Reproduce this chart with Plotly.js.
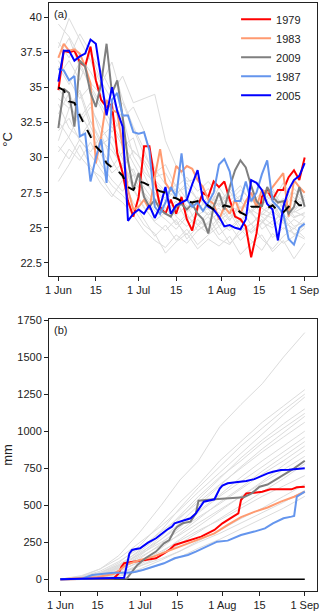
<!DOCTYPE html>
<html>
<head>
<meta charset="utf-8">
<script src="https://cdn.plot.ly/plotly-3.0.1.min.js"></script>
<style>
  html, body { margin: 0; padding: 0; background: #fff; }
  #chart { width: 320px; height: 611px; }
</style>
</head>
<body>
<div id="chart"></div>
<script>
// day index: 0 = 1 Jun, 92 = 1 Sep
const tickDays = [0, 14, 30, 44, 61, 75, 92];
const tickLabels = ["1 Jun", "15", "1 Jul", "15", "1 Aug", "15", "1 Sep"];

// ---- (a) daily max temperature, °C ----
const days2 = [0,2,4,6,8,10,12,14,16,18,20,22,24,26,28,30,32,34,36,38,40,42,44,46,48,50,52,54,56,58,60,62,64,66,68,70,72,74,76,78,80,82,84,86,88,90,92];
const days4 = [0,4,8,12,16,20,24,28,32,36,40,44,48,52,56,60,64,68,72,76,80,84,88,92];

const temp1979 = [34.8,37.6,37.5,37.6,36.8,36.5,37.9,35.5,34.1,33.6,33.8,30.3,28.9,26.9,25.8,27.2,30.8,30.8,28.4,26.5,26.0,27.0,26.0,27.2,25.6,24.8,26.5,27.5,27.2,28.3,27.9,28.3,27.0,25.8,25.6,25.1,22.9,24.6,27.2,27.7,27.0,27.7,27.7,28.6,29.1,28.4,30.0];
const temp1983 = [37.1,38.1,37.6,37.7,37.4,36.5,35.3,29.6,31.5,34.1,33.4,33.2,30.8,27.7,26.3,26.5,27.0,26.3,28.6,30.6,28.2,27.6,29.4,29.0,29.4,29.2,28.4,27.9,27.0,26.7,25.6,26.5,26.0,27.0,26.0,26.9,27.5,26.5,27.7,27.5,27.9,28.4,28.9,25.8,28.4,27.9,27.5];
const temp2009 = [32.1,34.9,34.6,32.2,36.9,36.5,34.6,33.6,35.3,38.1,34.6,35.5,32.9,29.8,27.7,28.9,27.2,26.5,27.0,26.3,26.0,25.8,26.5,26.7,26.3,26.7,26.0,25.6,24.6,26.5,27.5,26.3,27.9,29.1,29.8,29.3,28.0,26.9,26.5,27.9,27.2,26.8,26.9,26.0,26.5,27.9,26.5];
const temp1987 = [36.3,36.2,35.5,35.8,31.5,31.7,28.3,30.0,31.3,28.2,34.1,34.6,33.0,33.0,31.8,31.7,31.8,30.5,26.5,26.0,26.8,27.9,27.2,30.3,27.0,26.5,26.8,26.2,26.8,27.5,29.5,29.9,29.0,26.9,26.9,28.3,26.9,27.5,28.8,29.8,26.9,26.5,26.0,24.2,23.8,25.0,25.3];
const temp2005 = [35.4,37.6,37.6,36.9,37.2,37.4,38.4,38.1,35.6,33.0,35.0,33.3,32.2,25.5,26.0,26.3,26.0,26.6,25.7,26.5,27.9,26.0,26.6,26.8,27.0,28.1,29.1,27.0,26.5,26.3,25.8,25.1,25.2,25.0,24.9,25.6,28.4,28.2,27.7,26.7,26.3,24.1,26.5,27.7,28.4,28.7,29.6];
const tempMean = [35.0,34.8,34.0,33.9,33.0,32.2,31.5,30.8,30.4,29.6,29.3,29.1,28.7,27.9,27.7,28.3,28.2,28.0,27.8,27.6,27.5,27.2,27.1,26.9,26.9,26.8,26.9,26.7,26.6,26.3,26.3,26.6,26.5,26.4,26.1,25.9,26.5,26.5,26.5,26.4,26.6,26.2,26.1,26.5,27.0,26.6,26.6];

const tempOther = [
  [39.5,38.6,37.2,36.1,34.8,33.2,31.5,30.4,29.8,28.6,28.9,27.5,27.9,27.0,26.8,27.4,26.5,26.2,27.0,26.4,25.9,26.8,26.1,26.5],
  [37.8,39.9,38.4,36.9,35.2,36.8,34.1,32.2,30.6,28.4,27.6,27.2,26.1,26.8,25.9,26.4,25.5,26.9,26.0,25.4,26.3,27.1,25.8,26.0],
  [36.5,35.2,36.8,34.9,33.5,31.8,32.9,30.1,28.8,27.1,26.4,25.9,26.6,25.2,26.1,25.4,24.8,25.6,26.2,24.9,25.5,26.0,25.1,25.4],
  [34.2,33.5,34.8,32.6,31.2,30.5,29.4,28.2,27.5,26.6,27.2,25.8,25.1,25.9,26.4,25.1,25.8,26.5,25.2,26.1,26.8,25.5,26.2,27.0],
  [33.1,34.6,32.8,33.9,31.5,32.2,30.8,31.4,29.0,28.2,27.4,28.1,27.0,26.2,27.3,26.6,27.8,26.9,26.1,27.4,26.5,27.9,26.8,27.3],
  [31.9,32.8,31.2,30.4,31.6,29.8,28.5,29.2,27.4,26.2,25.6,24.9,25.8,25.2,24.6,25.5,26.1,24.8,25.3,26.0,25.7,24.9,25.6,25.1],
  [30.4,31.5,33.2,31.8,30.2,28.9,29.6,27.8,26.5,25.4,24.8,25.6,24.2,25.1,25.8,24.5,25.2,24.1,24.9,25.6,24.3,25.0,24.6,24.2],
  [29.2,30.6,29.8,31.1,29.5,28.4,27.6,28.8,27.1,25.9,26.5,25.2,26.0,24.8,25.4,26.1,25.0,25.7,24.6,25.3,26.2,25.5,24.9,25.8],
  [28.3,29.5,30.9,29.4,28.1,27.2,28.4,26.8,25.6,24.4,25.2,24.1,24.9,23.8,24.5,25.1,23.9,24.6,25.3,24.2,23.5,24.4,25.0,24.3],
  [35.8,36.9,35.5,37.4,36.2,34.6,35.8,33.9,34.2,34.5,31.2,29.4,28.3,28.5,27.1,26.9,27.6,26.4,27.2,26.7,27.8,26.3,27.5,26.8],
  [38.2,37.1,38.8,37.5,35.4,34.1,32.8,33.6,31.9,29.2,28.1,27.4,28.2,27.0,27.8,26.5,27.2,28.0,26.8,27.5,26.9,28.2,27.1,26.6],
  [32.6,31.4,30.1,29.2,28.6,27.4,26.8,25.9,24.8,24.1,23.6,24.5,23.9,24.8,25.3,24.2,23.8,24.9,24.1,23.4,24.6,23.9,24.4,25.0],
  [34.9,33.8,32.5,33.6,32.1,30.9,29.2,30.5,29.6,27.8,26.9,27.8,26.5,27.2,26.3,27.9,26.7,27.3,26.1,26.8,27.6,26.5,27.8,26.9],
  [36.9,35.6,34.2,35.1,33.8,32.4,31.1,29.6,28.2,27.5,26.2,26.9,25.5,26.3,27.0,25.8,26.6,25.4,26.3,25.8,25.2,26.4,25.7,26.1],
  [31.2,33.5,34.6,32.2,30.6,29.3,30.4,28.9,27.9,26.8,27.5,26.3,27.1,26.5,25.9,26.8,25.6,26.4,27.1,25.9,26.6,25.3,26.2,25.8],
  [33.8,32.1,31.4,32.6,30.9,31.5,29.9,27.7,26.4,25.5,26.1,25.4,24.5,25.6,24.9,25.7,26.3,25.1,24.7,25.4,25.0,25.9,24.5,25.2],
  [37.2,38.5,36.4,35.3,34.5,33.1,33.9,32.1,30.2,28.9,29.5,27.9,28.6,27.6,28.3,27.3,26.9,27.7,27.0,26.6,27.4,26.7,26.3,27.2],
  [30.8,29.9,31.3,30.2,29.1,28.0,27.3,26.4,25.2,24.6,23.2,24.0,24.6,23.5,24.2,23.7,24.4,23.1,23.9,24.5,23.3,24.1,22.8,23.9]
];

// ---- (b) cumulative precipitation, mm ----
const rainDays1979 = [0,20,22,23,24,28,32,36,39,41,43,45,49,53,58,61,65,67,68,70,73,76,79,87,89,92];
const rain1979 = [0,5,40,85,108,119,126,142,175,198,232,243,265,288,333,378,423,445,535,580,585,591,607,607,621,625];
const rainDays1983 = [0,14,20,22,25,30,35,39,43,48,53,58,63,68,73,78,83,88,92];
const rain1983 = [0,15,36,58,100,130,153,180,209,243,277,310,367,420,455,485,524,557,591];
const rainDays2009 = [0,25,27,29,32,36,39,41,43,44,46,49,51,52,58,65,69,72,75,78,83,88,92];
const rain2009 = [0,5,52,97,142,187,243,265,333,355,378,389,445,530,540,546,553,580,625,640,693,749,800];
const rainDays1987 = [0,8,12,15,20,25,28,31,35,39,43,48,51,55,59,63,68,73,77,80,84,87,88,89,92];
const rain1987 = [0,3,29,36,45,45,50,63,85,108,142,164,187,220,254,261,299,322,344,378,412,423,428,558,592];
const rainDays2005 = [0,24,26,27,28,30,33,36,40,42,43,45,49,51,54,58,60,61,63,66,70,73,76,78,80,83,86,88,92];
const rain2005 = [0,10,175,198,203,209,247,277,333,355,378,389,412,445,524,540,612,632,648,655,663,676,700,715,726,738,740,742,749];
const zeroDays = [0, 92];
const zeroRain = [0, 0];

const rainDaysOther = [0,8,15,22,30,38,45,52,60,68,76,84,92];
const rainOther = [
  [0,20,70,160,320,500,670,800,1030,1180,1320,1500,1665],
  [0,15,45,110,230,380,520,640,800,930,1060,1170,1280],
  [0,10,35,90,200,330,480,620,760,900,1020,1140,1250],
  [0,25,70,140,250,360,470,590,720,850,980,1110,1230],
  [0,5,30,80,170,290,410,540,680,820,940,1050,1150],
  [0,12,40,100,190,300,430,560,690,800,920,1020,1120],
  [0,8,25,70,160,270,380,500,630,760,880,990,1100],
  [0,18,55,120,210,320,420,520,640,750,860,960,1060],
  [0,6,20,60,140,240,350,460,570,690,800,900,1000],
  [0,10,30,85,180,270,360,450,560,660,760,860,960],
  [0,4,15,50,120,210,310,410,520,620,730,830,930],
  [0,14,45,95,170,250,330,420,510,610,710,800,900],
  [0,3,12,40,100,180,270,360,460,560,660,770,870],
  [0,8,30,75,150,230,300,380,470,560,650,740,830],
  [0,2,10,35,90,160,240,320,410,500,590,680,780],
  [0,6,20,55,120,190,260,330,400,480,560,630,700],
  [0,2,8,25,70,130,190,260,330,410,480,560,640],
  [0,5,15,40,90,140,190,250,310,380,450,520,600],
  [0,1,5,20,55,100,150,210,270,340,410,480,560]
];

const years = ["1979", "1983", "2009", "1987", "2005"];
const colors = ["#ff0000", "#ff9a70", "#7f7f7f", "#6495ed", "#0000ff"];
const tempYears = [temp1979, temp1983, temp2009, temp1987, temp2005];
const rainYears = [
  [rainDays1979, rain1979],
  [rainDays1983, rain1983],
  [rainDays2009, rain2009],
  [rainDays1987, rain1987],
  [rainDays2005, rain2005],
];

const grey = "#dcdcdc";
const traces = [];

tempOther.forEach((vals) => {
  traces.push({
    type: "scatter", mode: "lines", x: days4, y: vals,
    xaxis: "x", yaxis: "y", showlegend: false, hoverinfo: "skip",
    line: { color: grey, width: 1 },
  });
});
rainOther.forEach((vals) => {
  traces.push({
    type: "scatter", mode: "lines", x: rainDaysOther, y: vals,
    xaxis: "x2", yaxis: "y2", showlegend: false, hoverinfo: "skip",
    line: { color: grey, width: 1 },
  });
});
traces.push({
  type: "scatter", mode: "lines", x: zeroDays, y: zeroRain,
  xaxis: "x2", yaxis: "y2", showlegend: false,
  line: { color: "#000", width: 1.5 },
});

years.forEach((year, i) => {
  traces.push({
    type: "scatter", mode: "lines", name: year,
    x: days2, y: tempYears[i], xaxis: "x", yaxis: "y",
    line: { color: colors[i], width: 2 },
  });
  traces.push({
    type: "scatter", mode: "lines", name: year, showlegend: false,
    x: rainYears[i][0], y: rainYears[i][1], xaxis: "x2", yaxis: "y2",
    line: { color: colors[i], width: 2 },
  });
});

traces.push({
  type: "scatter", mode: "lines", name: "mean", showlegend: false,
  x: days2, y: tempMean, xaxis: "x", yaxis: "y",
  line: { color: "#000", width: 2, dash: "dash" },
});

const axisStyle = {
  showline: true, mirror: true, linecolor: "#222", linewidth: 1,
  ticks: "outside", ticklen: 4, tickcolor: "#222",
  showgrid: false, zeroline: false,
};

const layout = {
  width: 320,
  height: 611,
  margin: { l: 49, r: 3, t: 3, b: 20 },
  paper_bgcolor: "#fff",
  plot_bgcolor: "#fff",
  font: { family: "Liberation Sans, Arial, sans-serif", size: 11, color: "#222" },
  xaxis: {
    ...axisStyle, anchor: "y", domain: [0, 1], range: [-3.5, 96.6],
    tickvals: tickDays, ticktext: tickLabels,
  },
  yaxis: {
    ...axisStyle, anchor: "x", domain: [0.5357, 1], range: [21.57, 41.0],
    tickvals: [22.5, 25, 27.5, 30, 32.5, 35, 37.5, 40],
    ticktext: ["22.5", "25", "27.5", "30", "32.5", "35", "37.5", "40"],
    title: { text: "°C", standoff: 6 },
  },
  xaxis2: {
    ...axisStyle, anchor: "y2", domain: [0, 1], range: [-4.27, 96.6],
    tickvals: tickDays, ticktext: tickLabels,
  },
  yaxis2: {
    ...axisStyle, anchor: "x2", domain: [0, 0.4626], range: [-79, 1757],
    tickvals: [0, 250, 500, 750, 1000, 1250, 1500, 1750],
    title: { text: "mm", standoff: 6 },
  },
  legend: {
    x: 0.698, y: 0.997, xanchor: "left", yanchor: "top",
    bgcolor: "rgba(0,0,0,0)", font: { size: 11 },
  },
  annotations: [
    { text: "(a)", xref: "x domain", yref: "y domain", x: 0.012, y: 0.99,
      xanchor: "left", yanchor: "top", showarrow: false, font: { size: 11 } },
    { text: "(b)", xref: "x2 domain", yref: "y2 domain", x: 0.012, y: 0.99,
      xanchor: "left", yanchor: "top", showarrow: false, font: { size: 11 } },
  ],
};

Plotly.newPlot("chart", traces, layout, { displayModeBar: false, staticPlot: true });
</script>
</body>
</html>
